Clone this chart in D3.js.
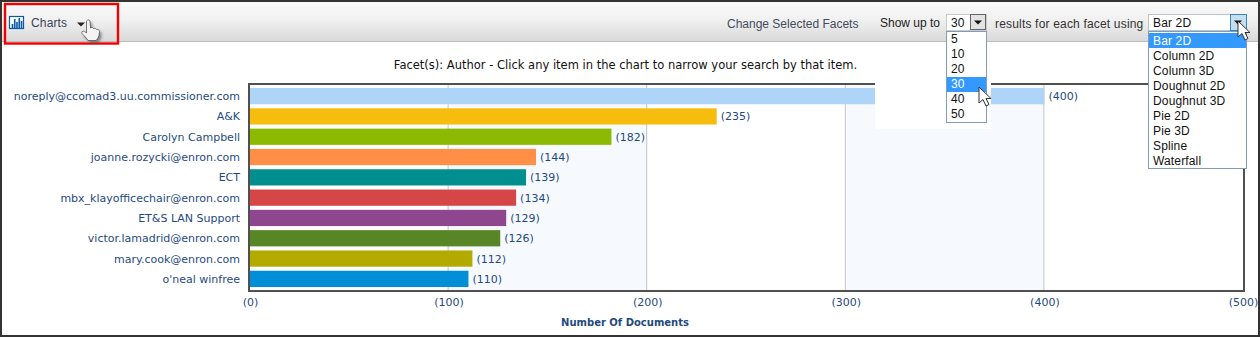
<!DOCTYPE html>
<html><head><meta charset="utf-8">
<style>html,body{margin:0;padding:0;background:#fff;overflow:hidden}svg{display:block}
.v{font-family:"DejaVu Sans",Verdana,sans-serif;font-size:11px;fill:#1f4a80}
.a{font-family:"Liberation Sans",Arial,sans-serif;font-size:12px}
</style>
<script src="https://cdn.jsdelivr.net/npm/d3@7"></script></head><body><div id="c"></div>
<script>
const categories=["noreply@ccomad3.uu.commissioner.com","A&K","Carolyn Campbell","joanne.rozycki@enron.com","ECT","mbx_klayofficechair@enron.com","ET&S LAN Support","victor.lamadrid@enron.com","mary.cook@enron.com","o'neal winfree"];
const values=[400,235,182,144,139,134,129,126,112,110];
const barColors=["#aed4f7","#f6bd0f","#8bba00","#ff8e46","#008e8e","#d64646","#8e468e","#588526","#b3aa00","#008ed6"];
const xTicks=[0,100,200,300,400,500];
const limitOptions=["5","10","20","30","40","50"];
const chartOptions=["Bar 2D","Column 2D","Column 3D","Doughnut 2D","Doughnut 3D","Pie 2D","Pie 3D","Spline","Waterfall"];
const iconBars=[4,9,6,10,7];

const W=1260,H=337;
const svg=d3.select("#c").append("svg").attr("width",W).attr("height",H);
const defs=svg.append("defs");
const g=defs.append("linearGradient").attr("id","tb").attr("x2",0).attr("y2",1);
g.append("stop").attr("offset",0).attr("stop-color","#f9f9f9");
g.append("stop").attr("offset",.45).attr("stop-color","#f1f1f1");
g.append("stop").attr("offset",1).attr("stop-color","#d9d9d9");
defs.append("filter").attr("id","sh").attr("x","-50%").attr("y","-50%").attr("width","200%").attr("height","200%")
 .append("feGaussianBlur").attr("stdDeviation",1.8);

function rect(p,x,y,w,h,fill,stroke,sw){const r=p.append("rect").attr("x",x).attr("y",y).attr("width",w).attr("height",h).attr("fill",fill||"none");if(stroke)r.attr("stroke",stroke).attr("stroke-width",sw||1);return r;}
function text(p,x,y,s,fill,cls,anchor){return p.append("text").attr("x",x).attr("y",y).attr("class",cls||"a").attr("fill",fill||"#222").attr("text-anchor",anchor||"start").text(s);}

// toolbar
rect(svg,2,2,W-4,39,"url(#tb)");
rect(svg,2,41,W-4,1,"#bdbdbd");

// chart
const x=d3.scaleLinear().domain([0,500]).range([250,1243]);
const y=d3.scaleBand().domain(categories).range([85,290]).paddingInner(.2).paddingOuter(.148);
const plotTop=85,plotBot=290;
const plot=svg.append("g");
[[100,200],[300,400]].forEach(b=>rect(plot,x(b[0]),plotTop,x(b[1])-x(b[0]),plotBot-plotTop,"#f6faff"));
plot.selectAll("line.grid").data(xTicks.slice(1,5)).join("line").attr("class","grid")
 .attr("x1",d=>x(d)-.5).attr("x2",d=>x(d)-.5).attr("y1",plotTop).attr("y2",plotBot).attr("stroke","#c4c4c4");
plot.selectAll("rect.bar").data(values).join("rect").attr("class","bar")
 .attr("x",x(0)).attr("y",(d,i)=>y(categories[i])).attr("width",d=>x(d)-x(0)).attr("height",y.bandwidth())
 .attr("fill",(d,i)=>barColors[i]);
plot.selectAll("text.val").data(values).join("text").attr("class","v val")
 .attr("x",d=>x(d)+4).attr("y",(d,i)=>y(categories[i])+y.bandwidth()/2+4).text(d=>`(${d})`);
plot.selectAll("text.cat").data(categories).join("text").attr("class","v cat").attr("text-anchor","end")
 .attr("x",240).attr("y",d=>y(d)+y.bandwidth()/2+4).text(d=>d);
rect(plot,249,84,995,207,"none","#505050",2);
const axis=d3.axisBottom(x).tickValues(xTicks).tickSize(0).tickPadding(0).tickFormat(d=>`(${d})`);
const ag=svg.append("g").attr("transform","translate(0,291)").call(axis);
ag.select(".domain").remove();
ag.selectAll("text").attr("class","v").attr("y",7).attr("dy",".71em");
text(svg,625,326,"Number Of Documents","#1c4a7d","v","middle").style("font-weight","bold").style("font-size","10px");
text(svg,625.5,69,"Facet(s): Author - Click any item in the chart to narrow your search by that item.","#111","v","middle").style("fill","#111").style("font-size","11.5px");

// white panel behind the open list
rect(svg,875,42,116,87,"#fff");

// toolbar left
const ic=svg.append("g");
rect(ic,9.5,16.5,14,12,"#fff","#0b5aa5",1.2);
const ix=d3.scaleBand().domain(d3.range(iconBars.length)).range([11,23]).padding(.28);
ic.selectAll("rect.ib").data(iconBars).join("rect").attr("class","ib").attr("x",(d,i)=>ix(i)).attr("width",ix.bandwidth()).attr("y",d=>28-d).attr("height",d=>d).attr("fill","#0b5aa5");
text(svg,31,27,"Charts","#3a4256").style("letter-spacing",".15px");
svg.append("path").attr("d","M77 22.5h8l-4 4z").attr("fill","#222");
rect(svg,5,4,113,39.5,"none","#f00000",2.4);

// hand cursor
const hand="M90 22c1-1.5 3-1.5 3.5 0l.5 7c1-1 2.500-.5 3 .5 1-.5 2.500 0 3 1 1.500-.5 3 .5 3 2l-.5 4c-.5 2-2 4-3 5h-8c-1-2-4-5-6-7-1-1.500 1-3 2.500-2l2 1.500z";
svg.append("path").attr("d",hand).attr("transform","translate(-1.500,1.500)").attr("fill","#555").attr("filter","url(#sh)").attr("opacity",.7);
svg.append("path").attr("d",hand).attr("transform","translate(-3.500,-1)").attr("fill","#f4f4f4").attr("stroke","#555").attr("stroke-width",.8);

// toolbar right
text(svg,727,28,"Change Selected Facets","#444b5c");
text(svg,880,27,"Show up to","#222");
text(svg,995,28,"results for each facet using","#333").style("letter-spacing",".18px");

// limit select
rect(svg,946.5,14.5,40,16,"#fff","#c9c9c9");
text(svg,951,27,"30","#111");
rect(svg,970.5,14.5,15,15,"#e2e2e2","#666");
svg.append("path").attr("d","M974 20.500h8l-4 4z").attr("fill","#111");
rect(svg,946.500,31.500,40,91,"#fff","#7f9db9");
const ly=d3.scalePoint().domain(limitOptions).range([39,114]);
rect(svg,947,77,39,15,"#3399ff");
svg.selectAll("text.lo").data(limitOptions).join("text").attr("class","a lo")
 .attr("x",951).attr("y",d=>ly(d)+4).attr("fill",d=>d==="30"?"#fff":"#111").text(d=>d);

// chart select
rect(svg,1148.500,14.500,98,16,"#fff","#b9c4cf");
text(svg,1153,27,"Bar 2D","#111").style("letter-spacing",".15px");
rect(svg,1230.500,14.500,16,16,"#c4def2","#3a87c0");
svg.append("path").attr("d","M1234 20.500h8l-4 4z").attr("fill","#111");
rect(svg,1148.500,31.500,98,137,"#fff","#7f9db9");
const cy=d3.scalePoint().domain(chartOptions).range([41,161]);
rect(svg,1149,33,97,15,"#3399ff");
svg.selectAll("text.co").data(chartOptions).join("text").attr("class","a co")
 .attr("x",1153).attr("y",d=>cy(d)+4).attr("fill",d=>d==="Bar 2D"?"#fff":"#111").style("letter-spacing",".15px").text(d=>d);

// arrow cursors
const arrow=(ax,ay)=>svg.append("path").attr("transform",`translate(${ax},${ay})`)
 .attr("d","M0 0v16l4-3.500 3 6.500 3-1.500-3-6h5z").attr("fill","#fff").attr("stroke","#333").attr("stroke-width",1);
arrow(979,87);
arrow(1238,21);

// frame
rect(svg,1,1,W-2,H-2,"none","#333",2);
</script></body></html>
